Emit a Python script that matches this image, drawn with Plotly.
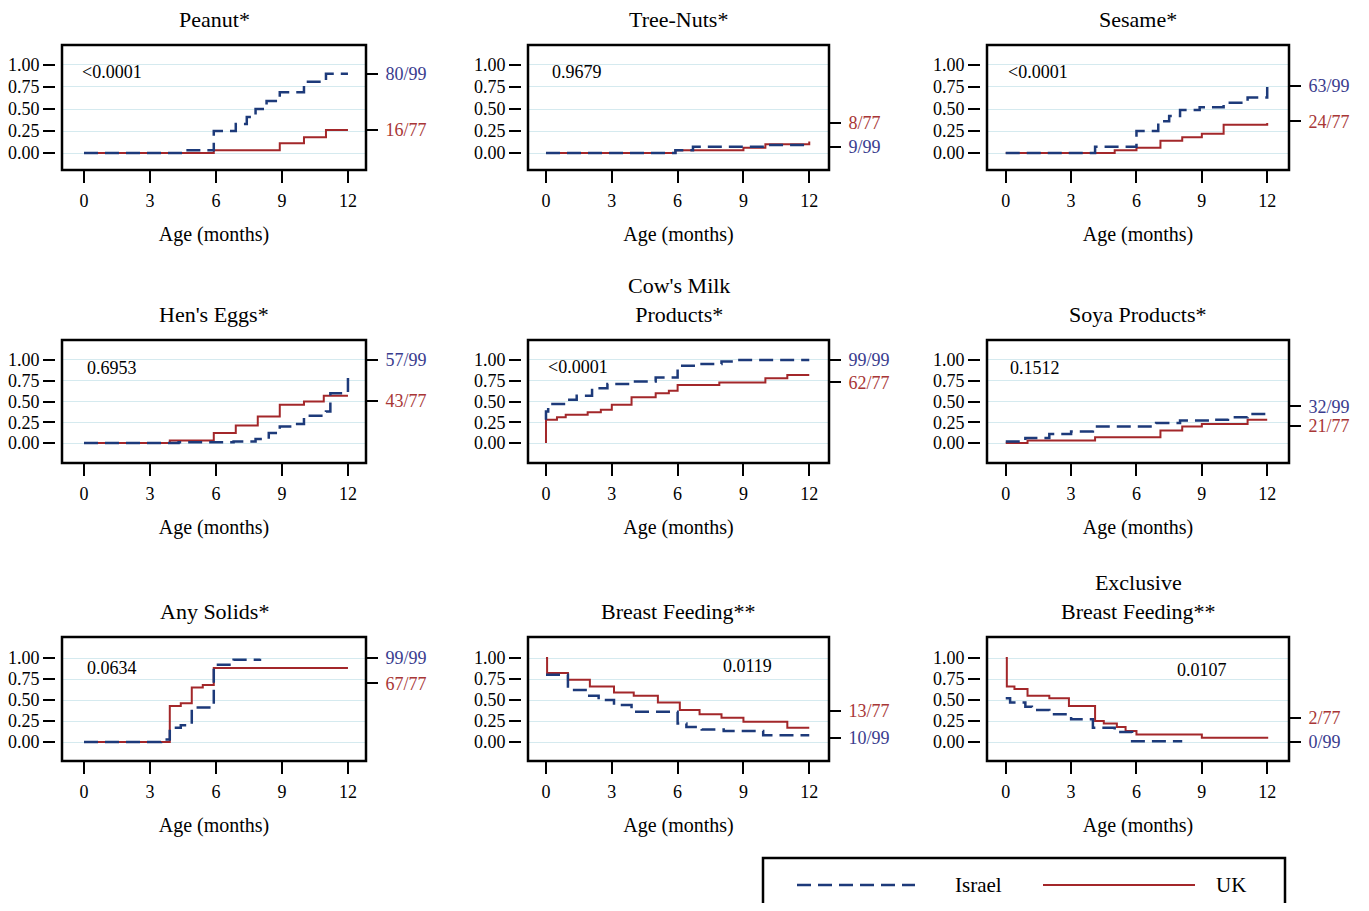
import plotly.graph_objects as go

# ---------------- data ----------------
titles = ["Peanut*", "Tree-Nuts*", "Sesame*",
          "Hen's Eggs*", "Cow's Milk<br>Products*", "Soya Products*",
          "Any Solids*", "Breast Feeding**", "Exclusive<br>Breast Feeding**"]
p_values = ["&lt;0.0001", "0.9679", "&lt;0.0001", "0.6953", "&lt;0.0001",
            "0.1512", "0.0634", "0.0119", "0.0107"]
isr_counts = ["80/99", "9/99", "63/99", "57/99", "99/99", "32/99", "99/99", "10/99", "0/99"]
uk_counts = ["16/77", "8/77", "24/77", "43/77", "62/77", "21/77", "67/77", "13/77", "2/77"]
x_ticks = [0, 3, 6, 9, 12]
y_ticks = [0, 0.25, 0.5, 0.75, 1.0]
y_tick_text = ["0.00", "0.25", "0.50", "0.75", "1.00"]

# Israel (dashed) and UK (solid) step curves: month, proportion
peanut_isr_x = [0, 4.4, 5.9, 6.9, 7.4, 7.8, 8.3, 8.9, 10.0, 11.0, 12]
peanut_isr_y = [0, 0.03, 0.25, 0.33, 0.41, 0.50, 0.59, 0.69, 0.81, 0.90, 0.90]
peanut_uk_x = [0, 5.9, 8.9, 10.0, 11.0, 12]
peanut_uk_y = [0, 0.03, 0.11, 0.18, 0.26, 0.26]

treenut_isr_x = [0, 5.9, 6.7, 10.0, 12]
treenut_isr_y = [0, 0.03, 0.07, 0.09, 0.09]
treenut_uk_x = [0, 5.9, 9.0, 10.0, 12, 12]
treenut_uk_y = [0, 0.03, 0.06, 0.10, 0.10, 0.13]

sesame_isr_x = [0, 4.1, 6.0, 7.0, 7.5, 8.0, 8.9, 10.0, 11.1, 12, 12]
sesame_isr_y = [0, 0.07, 0.25, 0.36, 0.42, 0.49, 0.52, 0.57, 0.63, 0.63, 0.75]
sesame_uk_x = [0, 5.0, 6.0, 7.1, 8.1, 9.0, 10.0, 12, 12]
sesame_uk_y = [0, 0.03, 0.06, 0.14, 0.18, 0.22, 0.32, 0.32, 0.34]

egg_isr_x = [0, 4.3, 6.8, 7.8, 8.4, 8.9, 9.6, 10.0, 11.0, 11.2, 12, 12]
egg_isr_y = [0, 0.01, 0.02, 0.05, 0.12, 0.20, 0.23, 0.33, 0.38, 0.60, 0.65, 0.86]
egg_uk_x = [0, 3.9, 5.9, 6.9, 7.9, 8.9, 10.0, 10.9, 12]
egg_uk_y = [0, 0.03, 0.12, 0.21, 0.32, 0.46, 0.50, 0.57, 0.57]

milk_isr_x = [0, 0, 0.1, 0.9, 1.4, 2.1, 2.8, 4.0, 5.0, 6.0, 7.0, 8.0, 8.6, 12]
milk_isr_y = [0.28, 0.38, 0.47, 0.52, 0.57, 0.66, 0.71, 0.74, 0.79, 0.93, 0.95, 0.98, 1.0, 1.0]
milk_uk_x = [0, 0, 0.5, 0.9, 1.9, 2.5, 3.0, 3.9, 5.0, 5.6, 6.0, 7.9, 10.0, 11.0, 12]
milk_uk_y = [0, 0.28, 0.31, 0.34, 0.37, 0.40, 0.46, 0.55, 0.60, 0.63, 0.70, 0.73, 0.78, 0.82, 0.82]

soya_isr_x = [0, 0.9, 2.0, 3.0, 4.0, 6.9, 8.0, 9.4, 10.2, 11.1, 12, 12]
soya_isr_y = [0.02, 0.06, 0.11, 0.14, 0.20, 0.24, 0.27, 0.28, 0.31, 0.35, 0.35, 0.41]
soya_uk_x = [0, 1.0, 4.1, 7.1, 8.1, 9.0, 11.1, 12]
soya_uk_y = [0, 0.03, 0.07, 0.15, 0.20, 0.23, 0.28, 0.28]

solids_isr_x = [0, 3.5, 3.9, 4.4, 4.9, 5.9, 6.8, 8.0]
solids_isr_y = [0, 0.03, 0.17, 0.20, 0.41, 0.92, 0.98, 0.99]
solids_uk_x = [0, 3.9, 4.4, 4.9, 5.4, 5.9, 12]
solids_uk_y = [0, 0.43, 0.46, 0.65, 0.68, 0.88, 0.88]

bf_isr_x = [0, 1.0, 1.9, 2.4, 3.1, 3.9, 6.0, 6.4, 7.1, 8.1, 9.9, 12]
bf_isr_y = [0.80, 0.62, 0.55, 0.50, 0.44, 0.36, 0.22, 0.18, 0.15, 0.13, 0.08, 0.08]
bf_uk_x = [0, 0.05, 1.0, 2.0, 3.1, 4.0, 5.1, 6.1, 7.0, 8.0, 9.0, 11.0, 12]
bf_uk_y = [1.0, 0.82, 0.74, 0.66, 0.59, 0.55, 0.47, 0.38, 0.33, 0.29, 0.24, 0.17, 0.17]

ebf_isr_x = [0, 0.2, 0.9, 1.2, 2.0, 3.0, 4.0, 5.0, 5.8, 8.1]
ebf_isr_y = [0.52, 0.47, 0.42, 0.38, 0.33, 0.27, 0.17, 0.12, 0.01, 0.01]
ebf_uk_x = [0, 0.05, 0.4, 1.0, 2.0, 2.9, 4.1, 4.5, 5.1, 5.5, 6.0, 9.0, 12]
ebf_uk_y = [1.0, 0.66, 0.63, 0.55, 0.52, 0.43, 0.25, 0.22, 0.18, 0.13, 0.09, 0.05, 0.04]

isr_x = [peanut_isr_x, treenut_isr_x, sesame_isr_x, egg_isr_x, milk_isr_x,
         soya_isr_x, solids_isr_x, bf_isr_x, ebf_isr_x]
isr_y = [peanut_isr_y, treenut_isr_y, sesame_isr_y, egg_isr_y, milk_isr_y,
         soya_isr_y, solids_isr_y, bf_isr_y, ebf_isr_y]
uk_x = [peanut_uk_x, treenut_uk_x, sesame_uk_x, egg_uk_x, milk_uk_x,
        soya_uk_x, solids_uk_x, bf_uk_x, ebf_uk_x]
uk_y = [peanut_uk_y, treenut_uk_y, sesame_uk_y, egg_uk_y, milk_uk_y,
        soya_uk_y, solids_uk_y, bf_uk_y, ebf_uk_y]

# ---------------- layout / style ----------------
W, H = 1369, 911
OFF = 8                      # page body margin
FW, FH = W - 2 * OFF, H - 2 * OFF
FONT = "Liberation Serif"
ISR = "#1d3a7a"
UKC = "#a3272a"
ISR_LBL = "#3a3c8e"
UK_LBL = "#a83636"
GRID = "#d5eaef"


def fx(px):
    return (px - OFF) / FW


def fy(py):
    return 1 - (py - OFF) / FH


cols_px = [(62, 366), (528, 829), (987, 1289)]
rows_px = [(45, 170), (340, 463), (637, 761)]
x_ranges = [[-1.0, 12.82], [-0.82, 12.9], [-0.86, 13.0]]
y_ranges = [[-0.193, 1.227], [-0.24, 1.24], [-0.226, 1.25]]

# right-label vertical positions (y scale) and p-value placements
isr_lbl_pos = [0.90, 0.07, 0.76, 1.00, 1.00, 0.44, 1.00, 0.05, 0.0]
uk_lbl_pos = [0.26, 0.34, 0.36, 0.51, 0.73, 0.21, 0.70, 0.37, 0.29]
p_pos = [(-0.2, 0.92, "left"), (0.2, 0.92, "left"), (0.0, 0.92, "left"),
         (0.05, 0.90, "left"), (0.0, 0.92, "left"), (0.1, 0.90, "left"),
         (0.05, 0.88, "left"), (9.2, 0.90, "center"), (9.0, 0.86, "center")]

fig = go.Figure()
layout = {}
annotations = []
shapes = []

for i in range(9):
    r, c = divmod(i, 3)
    n = i + 1
    xa = "x" if n == 1 else f"x{n}"
    ya = "y" if n == 1 else f"y{n}"
    ya2 = f"y{n + 9}"
    x0, x1 = cols_px[c]
    t, b = rows_px[r]
    xdom = [fx(x0), fx(x1)]
    ydom = [fy(b), fy(t)]

    fig.add_trace(go.Scatter(x=uk_x[i], y=uk_y[i], xaxis=xa, yaxis=ya, mode="lines",
                             line=dict(color=UKC, width=2, shape="hv"),
                             name="UK", showlegend=False))
    fig.add_trace(go.Scatter(x=isr_x[i], y=isr_y[i], xaxis=xa, yaxis=ya, mode="lines",
                             line=dict(color=ISR, width=2.5, dash="14px,7px", shape="hv"),
                             name="Israel", showlegend=False))
    # invisible trace for the right axis
    fig.add_trace(go.Scatter(x=[None], y=[None], xaxis=xa, yaxis=ya2,
                             showlegend=False, hoverinfo="skip"))

    layout["xaxis" if n == 1 else f"xaxis{n}"] = dict(
        domain=xdom, range=x_ranges[c], anchor=ya,
        tickvals=x_ticks, ticks="outside", ticklen=12, tickwidth=2, tickcolor="black",
        showline=False, showgrid=False, zeroline=False, ticklabelstandoff=2,
        tickfont=dict(family=FONT, size=18, color="black"),
        title=dict(text="Age (months)", standoff=17,
                   font=dict(family=FONT, size=20, color="black")),
    )
    layout["yaxis" if n == 1 else f"yaxis{n}"] = dict(
        domain=ydom, range=y_ranges[r], anchor="free", position=fx(x0 - 7),
        tickvals=y_ticks, ticktext=y_tick_text, ticks="outside", ticklen=12,
        tickwidth=2, tickcolor="black", showline=False, showgrid=True,
        gridcolor=GRID, gridwidth=1, zeroline=False,
        tickfont=dict(family=FONT, size=18, color="black"),
    )
    layout[f"yaxis{n + 9}"] = dict(
        domain=ydom, range=y_ranges[r], anchor=xa, overlaying=ya, side="right",
        tickvals=[isr_lbl_pos[i], uk_lbl_pos[i]],
        ticktext=[f'<span style="color:{ISR_LBL}">{isr_counts[i]}</span>',
                  f'<span style="color:{UK_LBL}">{uk_counts[i]}</span>'],
        ticks="outside", ticklen=11, tickwidth=2, tickcolor="black",
        showline=False, showgrid=False, zeroline=False, ticklabelstandoff=4,
        tickfont=dict(family=FONT, size=18, color="black"),
    )
    # frame
    shapes.append(dict(type="rect", xref=f"{xa} domain", yref=f"{ya} domain",
                       x0=0, x1=1, y0=0, y1=1, line=dict(color="black", width=2.5),
                       layer="above"))
    # panel title
    annotations.append(dict(text=titles[i], xref=f"{xa} domain", yref=f"{ya} domain",
                            x=0.5, y=1, xanchor="center", yanchor="bottom", yshift=11,
                            showarrow=False,
                            font=dict(family=FONT, size=22, color="black")))
    # p-value
    px, py, pa = p_pos[i]
    annotations.append(dict(text=p_values[i], xref=xa, yref=ya, x=px, y=py,
                            xanchor=pa, yanchor="middle", showarrow=False,
                            font=dict(family=FONT, size=18, color="black")))

# legend box (manual, wide like the original)
ly = fy(885)
shapes.append(dict(type="rect", xref="paper", yref="paper", x0=fx(763), x1=fx(1285),
                   y0=-0.1, y1=fy(858), line=dict(color="black", width=2.5)))
shapes.append(dict(type="line", xref="paper", yref="paper", x0=fx(797), x1=fx(915),
                   y0=ly, y1=ly, line=dict(color=ISR, width=2.5, dash="14px,7px")))
shapes.append(dict(type="line", xref="paper", yref="paper", x0=fx(1043), x1=fx(1195),
                   y0=ly, y1=ly, line=dict(color=UKC, width=2)))
annotations.append(dict(text="Israel", xref="paper", yref="paper", x=fx(953), y=ly,
                        xanchor="left", yanchor="middle", showarrow=False,
                        font=dict(family=FONT, size=21, color="black")))
annotations.append(dict(text="UK", xref="paper", yref="paper", x=fx(1214), y=ly,
                        xanchor="left", yanchor="middle", showarrow=False,
                        font=dict(family=FONT, size=21, color="black")))

fig.update_layout(
    width=FW, height=FH,
    margin=dict(l=0, r=0, t=0, b=0),
    paper_bgcolor="white", plot_bgcolor="white",
    annotations=annotations, shapes=shapes,
    showlegend=False,
    **layout,
)

fig.write_html("out.html")
